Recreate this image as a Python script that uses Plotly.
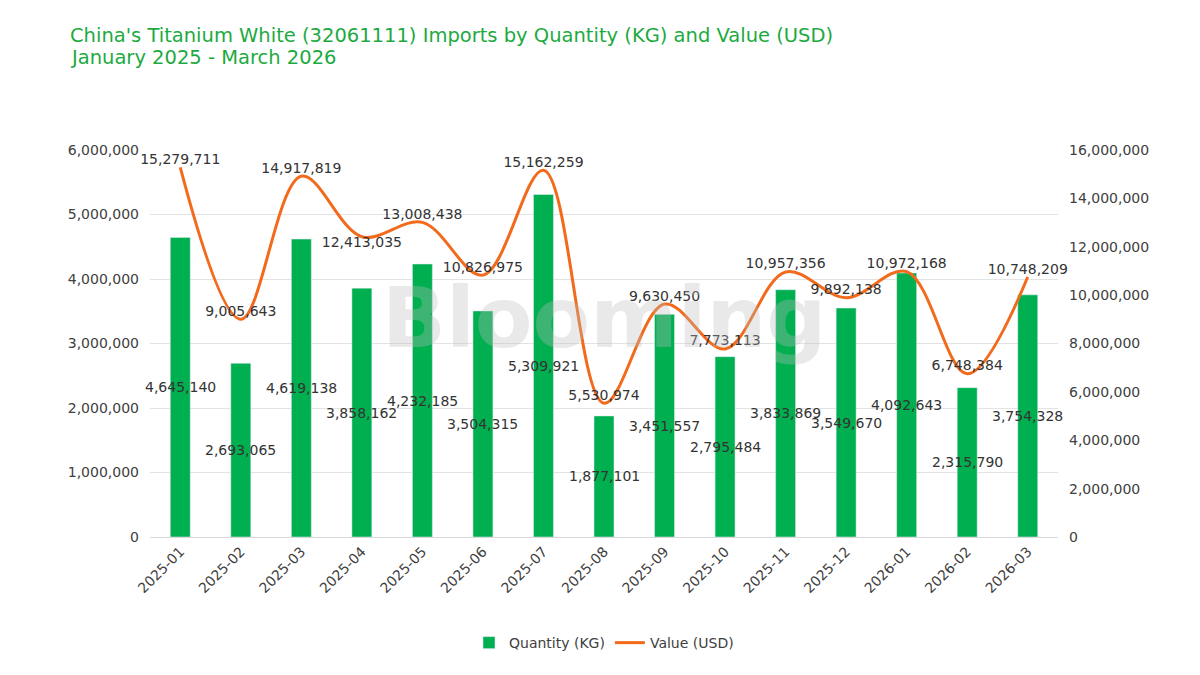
import plotly.graph_objects as go

months = ["2025-01","2025-02","2025-03","2025-04","2025-05","2025-06","2025-07","2025-08",
          "2025-09","2025-10","2025-11","2025-12","2026-01","2026-02","2026-03"]
quantity_kg = [4645140, 2693065, 4619138, 3858162, 4232185, 3504315, 5309921, 1877101,
               3451557, 2795484, 3833869, 3549670, 4092643, 2315790, 3754328]
value_usd = [15279711, 9005643, 14917819, 12413035, 13008438, 10826975, 15162259, 5530974,
             9630450, 7773113, 10957356, 9892138, 10972168, 6748384, 10748209]
value_label_pos = ["top center"] * len(months)
value_label_pos[3] = "bottom center"

FONT = "DejaVu Sans"
GREEN = "#00B050"
ORANGE = "#F26B1D"
TXT = "#333333"

fig = go.Figure()
fig.add_trace(go.Bar(
    x=months, y=quantity_kg, name="Quantity (KG)", marker_color=GREEN,
    width=0.33, yaxis="y",
))
fig.add_trace(go.Scatter(
    x=months, y=value_usd, name="Value (USD)", yaxis="y2",
    mode="lines+text", line=dict(color=ORANGE, width=3, shape="spline", smoothing=1.0),
    text=[f"{v:,}" for v in value_usd], textposition=value_label_pos,
    textfont=dict(family=FONT, size=14, color=TXT), cliponaxis=False,
))

annotations = []
for m, q in zip(months, quantity_kg):
    annotations.append(dict(x=m, y=q / 2, xref="x", yref="y", text=f"{q:,}", showarrow=False,
                            font=dict(family=FONT, size=14, color=TXT)))
annotations.append(dict(x=0.5, y=0.565, xref="paper", yref="paper", text="<b>Blooming</b>",
                        showarrow=False, font=dict(family=FONT, size=84, color="#BDBDBD"),
                        opacity=0.32))
title_lines = ["China's Titanium White (32061111) Imports by Quantity (KG) and Value (USD)",
               "January 2025 - March 2026"]
for i, t in enumerate(title_lines):
    annotations.append(dict(x=(68 - 150) / (1058 - 150), y=[1.297, 1.238][i],
                            xref="paper", yref="paper",
                            xanchor="left", yanchor="middle", text=t, showarrow=False,
                            font=dict(family=FONT, size=19.5, color="#1DAA3F")))

fig.update_layout(
    width=1200, height=675,
    margin=dict(l=150, r=142, t=150, b=138),
    paper_bgcolor="white", plot_bgcolor="white",
    font=dict(family=FONT, size=14, color="#404040"),
    xaxis=dict(type="category", range=[-0.5, len(months) - 0.5], tickangle=-45,
               showgrid=False, showline=True, linecolor="#D9D9D9", automargin=False,
               tickfont=dict(family=FONT, size=14, color="#404040")),
    yaxis=dict(range=[0, 6000000], dtick=1000000, tickformat=",d", showgrid=True,
               gridcolor="#E3E3E3", zeroline=False, ticklabelstandoff=10, automargin=False,
               tickfont=dict(family=FONT, size=14, color="#404040")),
    yaxis2=dict(range=[0, 16000000], dtick=2000000, tickformat=",d", overlaying="y",
                side="right", showgrid=False, zeroline=False, ticklabelstandoff=10,
                automargin=False,
                tickfont=dict(family=FONT, size=14, color="#404040")),
    legend=dict(orientation="h", x=0.5, xanchor="center", y=-0.274, yanchor="middle",
                font=dict(family=FONT, size=14, color="#404040"), traceorder="normal"),
    annotations=annotations,
)

fig.write_html("out.html")
